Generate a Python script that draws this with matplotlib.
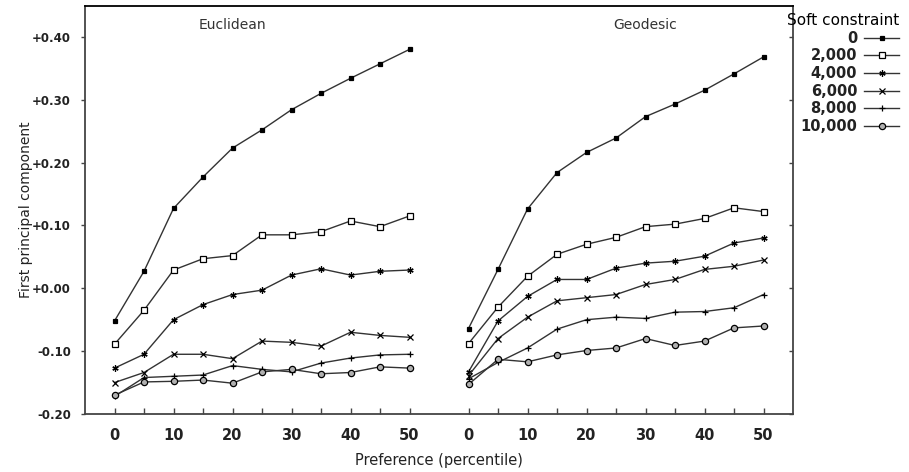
import matplotlib.pyplot as plt
import numpy as np

# preference percentiles, same for both panels
pct = [0, 5, 10, 15, 20, 25, 30, 35, 40, 45, 50]
constraints = ['0', '2,000', '4,000', '6,000', '8,000', '10,000']

euclid_0 = [-0.052, 0.027, 0.127, 0.177, 0.223, 0.252, 0.284, 0.310, 0.334, 0.357, 0.380]
euclid_2000 = [-0.089, -0.035, 0.029, 0.047, 0.052, 0.085, 0.085, 0.090, 0.107, 0.098, 0.115]
euclid_4000 = [-0.127, -0.105, -0.050, -0.026, -0.010, -0.003, 0.021, 0.031, 0.021, 0.027, 0.029]
euclid_6000 = [-0.150, -0.134, -0.105, -0.105, -0.112, -0.084, -0.086, -0.092, -0.070, -0.075, -0.078]
euclid_8000 = [-0.172, -0.142, -0.140, -0.138, -0.123, -0.129, -0.133, -0.119, -0.111, -0.106, -0.105]
euclid_10000 = [-0.170, -0.149, -0.148, -0.146, -0.151, -0.133, -0.129, -0.136, -0.134, -0.125, -0.127]

geo_0 = [-0.064, 0.030, 0.126, 0.184, 0.216, 0.239, 0.273, 0.293, 0.315, 0.341, 0.368]
geo_2000 = [-0.088, -0.030, 0.019, 0.054, 0.070, 0.081, 0.098, 0.102, 0.111, 0.128, 0.122]
geo_4000 = [-0.133, -0.052, -0.013, 0.014, 0.014, 0.032, 0.040, 0.043, 0.051, 0.072, 0.080]
geo_6000 = [-0.139, -0.080, -0.046, -0.020, -0.015, -0.010, 0.006, 0.014, 0.030, 0.035, 0.045]
geo_8000 = [-0.144, -0.118, -0.095, -0.065, -0.050, -0.046, -0.048, -0.038, -0.037, -0.031, -0.010]
geo_10000 = [-0.153, -0.113, -0.117, -0.106, -0.099, -0.095, -0.080, -0.091, -0.084, -0.063, -0.060]

yticks = [-0.20, -0.10, 0.00, 0.10, 0.20, 0.30, 0.40]
ytick_labels = ['-0.20', '-0.10', '+0.00', '+0.10', '+0.20', '+0.30', '+0.40']

euclid = [euclid_0, euclid_2000, euclid_4000, euclid_6000, euclid_8000, euclid_10000]
geo = [geo_0, geo_2000, geo_4000, geo_6000, geo_8000, geo_10000]

# marker style per constraint level
styles = [
    dict(marker='s', mfc='black', ms=3.5),
    dict(marker='s', mfc='white', ms=4),
    dict(marker=(6, 2, 0), mfc='black', ms=4.5),
    dict(marker='x', mfc='none', ms=4),
    dict(marker='+', mfc='none', ms=5),
    dict(marker='o', mfc='#b0b0b0', ms=4.5),
]

line_col = '#333333'
shift = 60  # horizontal offset of the geodesic panel

fig = plt.figure(figsize=(9.09, 4.72), dpi=100)
ax = fig.add_axes([85 / 909, 1 - 414 / 472, 708 / 909, 408 / 472])

x = np.array(pct)
handles = []
for lab, e, g, st in zip(constraints, euclid, geo, styles):
    h, = ax.plot(x, e, color=line_col, lw=1.0, mec='black', mew=0.9, label=lab, **st)
    ax.plot(x + shift, g, color=line_col, lw=1.0, mec='black', mew=0.9, **st)
    handles.append(h)

ax.set_xlim(-5, 115)
ax.set_ylim(-0.20, 0.449)

xt = list(pct) + [p + shift for p in pct]
xl = [str(p) if p % 10 == 0 else '' for p in pct] * 2
ax.set_xticks(xt)
ax.set_xticklabels(xl, fontweight='bold', fontsize=10.5)
ax.tick_params(axis='x', direction='in', length=4, width=1, color='#444444', pad=10,
               labelcolor='#222222')

ax.set_yticks(yticks)
ax.set_yticklabels(ytick_labels, fontweight='bold', fontsize=8.5)
ax.tick_params(axis='y', direction='out', length=3, width=1, color='#444444', pad=7,
               labelcolor='#222222')

right = ax.secondary_yaxis('right')
right.set_yticks(yticks)
right.tick_params(axis='y', direction='in', length=3, width=1, color='#444444', labelright=False)
right.spines['right'].set_visible(False)

for sp in ax.spines.values():
    sp.set_color('#444444')
    sp.set_linewidth(1.3)
ax.spines['top'].set_color('black')

ax.text(20, 0.419, 'Euclidean', ha='center', va='center', fontsize=10, color='#333333')
ax.text(shift + 30, 0.419, 'Geodesic', ha='center', va='center', fontsize=10, color='#333333')

fig.text(26 / 909, 1 - 210 / 472, 'First principal component', rotation=90,
         ha='center', va='center', fontsize=10, color='#222222')
fig.text(439 / 909, 1 - 460 / 472, 'Preference (percentile)',
         ha='center', va='center', fontsize=10.5, color='#222222')

leg = fig.legend(handles=handles, loc='upper left', bbox_to_anchor=(777 / 909, 1 - 3 / 472),
                 frameon=False, markerfirst=False, title='Soft constraint',
                 fontsize=10.5, title_fontsize=11, handlelength=2.4, handletextpad=0.5,
                 labelspacing=0.18, borderpad=0.2)
for t in leg.get_texts():
    t.set_fontweight('bold')
    t.set_color('#222222')
leg._legend_box.align = 'right'

fig.savefig('out.png', dpi=100)
